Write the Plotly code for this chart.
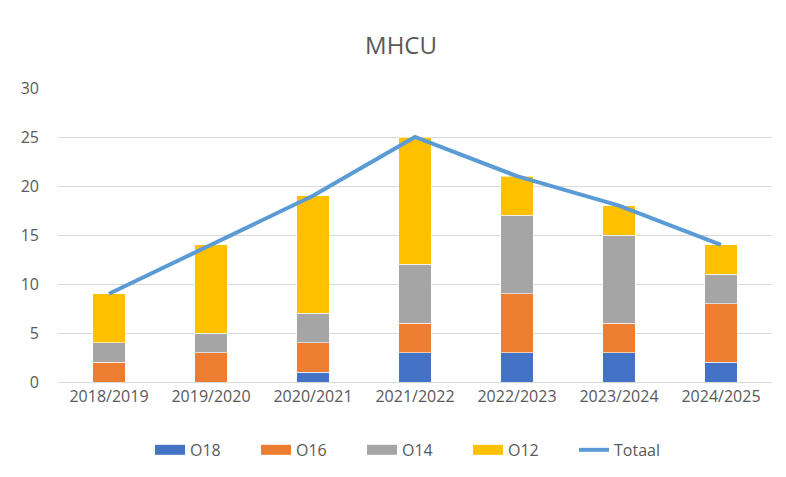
import plotly.graph_objects as go

categories = ["2018/2019", "2019/2020", "2020/2021", "2021/2022", "2022/2023", "2023/2024", "2024/2025"]
o18 = [0, 0, 1, 3, 3, 3, 2]
o16 = [2, 3, 3, 3, 6, 3, 6]
o14 = [2, 2, 3, 6, 8, 9, 3]
o12 = [5, 9, 12, 13, 4, 3, 3]
totaal = [9, 14, 19, 25, 21, 18, 14]

series = [("O18", o18, "#4472C4"), ("O16", o16, "#ED7D31"), ("O14", o14, "#A5A5A5"), ("O12", o12, "#FFC000")]

fig = go.Figure()
for name, vals, col in series:
    fig.add_trace(go.Bar(x=categories, y=vals, name=name, legendgroup=name, showlegend=False,
                         marker=dict(color=col, line=dict(color="rgba(255,255,255,0.6)", width=1))))
    # legend-only entry drawn as a wide swatch
    fig.add_trace(go.Scatter(x=[None], y=[None], name=name, legendgroup=name, mode="lines",
                             line=dict(color=col, width=12)))
fig.add_trace(go.Scatter(x=categories, y=totaal, name="Totaal", mode="lines", line=dict(color="#5B9BD5", width=4)))

font = "Open Sans, Liberation Sans, sans-serif"
fig.update_layout(
    width=786, height=477,
    barmode="stack", bargap=0.68,
    paper_bgcolor="white", plot_bgcolor="white",
    margin=dict(l=50, r=22, t=80, b=103),
    title=dict(text="MHCU", x=0.5, xanchor="center", y=0.922, yanchor="middle", font=dict(family=font, size=24, color="#595959")),
    font=dict(family=font, size=16, color="#595959"),
    legend=dict(orientation="h", x=0.5, xanchor="center", y=-0.231, yanchor="middle", font=dict(size=16, color="#595959"),
                traceorder="normal", entrywidth=61, entrywidthmode="pixels"),
    xaxis=dict(showgrid=False, showline=True, linecolor="#D9D9D9", linewidth=1, tickfont=dict(size=16, color="#595959"), ticks=""),
    yaxis=dict(range=[0, 30], dtick=5, showgrid=True, gridcolor="#D9D9D9", gridwidth=1, zeroline=False, showline=False,
               tickfont=dict(size=16, color="#595959"), ticklabelstandoff=18),
)
fig.write_html("out.html")
